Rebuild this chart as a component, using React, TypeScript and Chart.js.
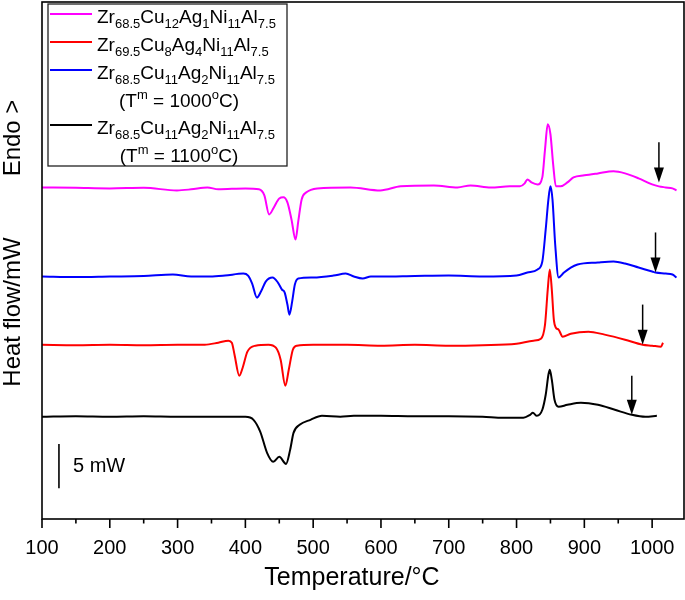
import React, { useEffect, useRef } from "react";
import { Chart, registerables } from "chart.js";

Chart.register(...registerables);

const FONT = '"Liberation Sans", Arial, Helvetica, sans-serif';

// Temperature (°C) and heat flow (mW, arbitrary offset)
const magentaT = [100,150,200,250,299,320,344,360,400,420,428,435,442,450,456,462,468,474,478,483,490,506,555,599,629,678,713,732,762,790,805,812,816,822,831,838,842,846,850,854,858,865,875,884,900,920,943,960,980,1000,1010,1020,1030,1036];
const magentaV = [37.61,37.56,37.50,37.56,37.27,37.39,37.61,37.39,37.50,37.39,36.70,34.55,35.34,36.36,36.48,35.91,33.98,31.70,33.75,36.25,37.05,37.50,37.61,37.27,37.73,37.84,37.61,37.84,37.61,37.73,37.73,38.07,38.52,38.18,37.95,38.75,41.93,44.77,43.64,40.23,37.73,37.73,38.18,38.75,38.98,39.20,39.43,39.20,38.64,37.95,37.73,37.61,37.50,37.27];

const blueT = [100,150,200,250,293,320,348,370,397,404,410,417,423,430,440,448,454,458,462,465,469,473,478,500,530,548,560,573,585,600,650,700,750,800,816,831,838,843,847,850,853,857,862,870,880,890,920,943,960,980,1000,1005,1020,1030,1036];
const blueV = [27.50,27.44,27.50,27.56,27.73,27.50,27.50,27.61,27.84,27.61,26.70,25.11,25.80,26.93,27.39,26.82,26.02,25.68,24.32,23.18,24.66,26.59,27.27,27.39,27.61,27.84,27.50,27.27,27.50,27.50,27.56,27.61,27.50,27.61,27.95,28.30,29.20,32.84,36.25,37.73,36.25,31.14,27.39,27.95,28.52,28.86,29.09,29.20,28.98,28.52,28.07,27.95,27.84,27.73,27.39];

const redT = [100,150,200,250,300,340,360,375,380,384,391,396,403,415,434,445,452,459,464,470,476,500,550,600,650,700,750,800,825,836,842,846,849,852,855,858,862,868,880,906,930,960,986,1000,1013,1016];
const redV = [19.77,19.72,19.77,19.72,19.77,19.77,20.00,20.23,20.00,18.64,16.25,17.16,18.98,19.66,19.77,19.43,18.07,15.11,16.93,19.20,19.66,19.77,19.77,19.66,19.77,19.66,19.72,19.89,20.23,20.45,22.05,26.02,28.30,26.02,22.61,21.70,21.48,20.68,21.02,21.25,20.91,20.34,19.77,19.66,19.55,20.00];

const blackT = [100,150,200,250,300,350,400,412,422,432,441,450,460,466,471,480,496,513,540,560,600,650,700,750,780,810,820,824,830,838,843,847,849,852,856,862,875,895,920,945,970,990,1007];
const blackV = [11.59,11.65,11.59,11.65,11.59,11.59,11.59,11.25,9.89,7.50,6.48,7.05,6.25,7.84,9.77,10.68,11.25,11.70,11.59,11.70,11.70,11.65,11.65,11.59,11.48,11.48,11.82,12.05,11.70,12.39,14.09,16.36,16.93,15.80,13.52,12.73,12.95,13.18,12.95,12.39,11.82,11.59,11.70];

// Arrows marking liquidus temperatures (T, top of shaft, tip) in data units
const arrowT = [1010, 1005, 986, 970];
const arrowTop = [42.73, 32.50, 24.32, 16.25];
const arrowTip = [38.18, 27.95, 19.77, 11.82];

// 5 mW scale bar
const scaleBarT = 125;
const scaleBarFrom = 3.5;
const scaleBarTo = 8.5;
const scaleBarLabel = "5 mW";

const xMin = 100;
const xMax = 1047;
const yMin = 0;
const yMax = 58.64;
const majorTicks = [100, 200, 300, 400, 500, 600, 700, 800, 900, 1000];
const minorTicks = [150, 250, 350, 450, 550, 650, 750, 850, 950];

const xTitle = "Temperature/°C";
const yTitle = "Heat flow/mW";
const endoLabel = "Endo >";

type Part = [string, "n" | "b" | "p"];
const alloy = (zr: string, cu: string, ag: string, ni: string, al: string): Part[] => [
  ["Zr", "n"], [zr, "b"], ["Cu", "n"], [cu, "b"], ["Ag", "n"], [ag, "b"], ["Ni", "n"], [ni, "b"], ["Al", "n"], [al, "b"],
];
const tmNote = (t: string): Part[] => [["(T", "n"], ["m", "p"], [" = " + t, "n"], ["o", "p"], ["C)", "n"]];

const seriesLabels = [
  "Zr68.5Cu12Ag1Ni11Al7.5",
  "Zr69.5Cu8Ag4Ni11Al7.5",
  "Zr68.5Cu11Ag2Ni11Al7.5 (Tm = 1000oC)",
  "Zr68.5Cu11Ag2Ni11Al7.5 (Tm = 1100oC)",
];
const seriesColors = ["#ff00ff", "#ff0000", "#0000ff", "#000000"];
const legendRich: Part[][][] = [
  [alloy("68.5", "12", "1", "11", "7.5")],
  [alloy("69.5", "8", "4", "11", "7.5")],
  [alloy("68.5", "11", "2", "11", "7.5"), tmNote("1000")],
  [alloy("68.5", "11", "2", "11", "7.5"), tmNote("1100")],
];

function richWidth(ctx: CanvasRenderingContext2D, parts: Part[]) {
  let w = 0;
  for (const [t, k] of parts) {
    ctx.font = k === "n" ? `19px ${FONT}` : `13px ${FONT}`;
    w += ctx.measureText(t).width;
  }
  return w;
}
function drawRich(ctx: CanvasRenderingContext2D, parts: Part[], x: number, y: number) {
  let cx = x;
  for (const [t, k] of parts) {
    ctx.font = k === "n" ? `19px ${FONT}` : `13px ${FONT}`;
    const dy = k === "b" ? 5 : k === "p" ? -8 : 0;
    ctx.fillText(t, cx, y + dy);
    cx += ctx.measureText(t).width;
  }
}

const decorPlugin = {
  id: "decor",
  afterDraw(chart: any) {
    const { ctx, chartArea: a } = chart;
    const xs = chart.scales.x;
    const ys = chart.scales.y;
    ctx.save();
    ctx.strokeStyle = "#000";
    ctx.fillStyle = "#000";
    // frame
    ctx.lineWidth = 1.6;
    ctx.strokeRect(a.left, a.top, a.right - a.left, a.bottom - a.top);
    // ticks
    ctx.lineWidth = 1.6;
    ctx.beginPath();
    for (const v of majorTicks) {
      const px = xs.getPixelForValue(v);
      ctx.moveTo(px, a.bottom);
      ctx.lineTo(px, a.bottom + 9);
    }
    for (const v of minorTicks) {
      const px = xs.getPixelForValue(v);
      ctx.moveTo(px, a.bottom);
      ctx.lineTo(px, a.bottom + 4.5);
    }
    ctx.stroke();

    // arrows
    for (let i = 0; i < arrowT.length; i++) {
      const px = xs.getPixelForValue(arrowT[i]);
      const top = ys.getPixelForValue(arrowTop[i]);
      const tip = ys.getPixelForValue(arrowTip[i]);
      ctx.lineWidth = 1.5;
      ctx.beginPath();
      ctx.moveTo(px, top);
      ctx.lineTo(px, tip - 10);
      ctx.stroke();
      ctx.beginPath();
      ctx.moveTo(px - 5, tip - 15);
      ctx.lineTo(px + 5, tip - 15);
      ctx.lineTo(px, tip);
      ctx.closePath();
      ctx.fill();
    }

    // scale bar
    const sbx = xs.getPixelForValue(scaleBarT);
    const sb1 = ys.getPixelForValue(scaleBarFrom);
    const sb2 = ys.getPixelForValue(scaleBarTo);
    ctx.lineWidth = 1.6;
    ctx.beginPath();
    ctx.moveTo(sbx, sb1);
    ctx.lineTo(sbx, sb2);
    ctx.stroke();
    ctx.font = `20px ${FONT}`;
    ctx.textBaseline = "middle";
    ctx.textAlign = "left";
    ctx.fillText(scaleBarLabel, sbx + 14, (sb1 + sb2) / 2);

    // legend box
    ctx.fillStyle = "#fff";
    ctx.fillRect(48, 4, 239, 162);
    ctx.strokeStyle = "#222";
    ctx.lineWidth = 1.3;
    ctx.strokeRect(48, 4, 239, 162);
    ctx.fillStyle = "#000";
    ctx.textBaseline = "alphabetic";
    const lineYs = [14, 42, 70, 125];
    for (let i = 0; i < legendRich.length; i++) {
      const ly = lineYs[i];
      ctx.strokeStyle = seriesColors[i];
      ctx.lineWidth = 2;
      ctx.beginPath();
      ctx.moveTo(50, ly);
      ctx.lineTo(92, ly);
      ctx.stroke();
      const rows = legendRich[i];
      drawRich(ctx, rows[0], 97, ly + 9);
      if (rows[1]) {
        const w = richWidth(ctx, rows[1]);
        drawRich(ctx, rows[1], 179 - w / 2, ly + 37);
      }
    }

    // titles
    ctx.fillStyle = "#000";
    ctx.font = `25px ${FONT}`;
    ctx.textAlign = "center";
    ctx.textBaseline = "middle";
    ctx.fillText(xTitle, 352, 578);
    ctx.font = `24px ${FONT}`;
    ctx.save();
    ctx.translate(13, 312);
    ctx.rotate(-Math.PI / 2);
    ctx.fillText(yTitle, 0, 0);
    ctx.restore();
    ctx.save();
    ctx.translate(13, 138);
    ctx.rotate(-Math.PI / 2);
    ctx.fillText(endoLabel, 0, 0);
    ctx.restore();
    ctx.restore();
  },
};

const toPoints = (t: number[], v: number[]) => t.map((x, i) => ({ x, y: v[i] }));

export default function App() {
  const ref = useRef<HTMLCanvasElement | null>(null);
  useEffect(() => {
    if (!ref.current) return;
    const seriesData = [
      toPoints(magentaT, magentaV),
      toPoints(redT, redV),
      toPoints(blueT, blueV),
      toPoints(blackT, blackV),
    ];
    const chart = new Chart(ref.current, {
      type: "line",
      data: {
        datasets: seriesData.map((d, i) => ({
          label: seriesLabels[i],
          data: d,
          borderColor: seriesColors[i],
          backgroundColor: seriesColors[i],
          borderWidth: 2,
          pointRadius: 0,
          fill: false,
          cubicInterpolationMode: "monotone" as const,
        })),
      },
      options: {
        animation: false,
        responsive: true,
        maintainAspectRatio: false,
        layout: { padding: { left: 42, top: 2, right: 1, bottom: 0 } },
        plugins: { legend: { display: false }, tooltip: { enabled: false }, title: { display: false } },
        scales: {
          x: {
            type: "linear",
            min: xMin,
            max: xMax,
            grid: { display: false },
            border: { display: false },
            afterBuildTicks: (scale: any) => {
              scale.ticks = majorTicks.map((v) => ({ value: v }));
            },
            afterFit: (scale: any) => {
              scale.height = 81;
            },
            ticks: {
              color: "#000",
              font: { family: FONT, size: 20 },
              padding: 9,
              maxRotation: 0,
              autoSkip: false,
              callback: (v: any) => String(v),
            },
          },
          y: {
            type: "linear",
            display: false,
            min: yMin,
            max: yMax,
          },
        },
      },
      plugins: [decorPlugin],
    });
    return () => chart.destroy();
  }, []);
  return (
    <div style={{ position: "fixed", left: 0, top: 0, width: 685, height: 600, background: "#fff" }}>
      <canvas ref={ref} />
    </div>
  );
}
